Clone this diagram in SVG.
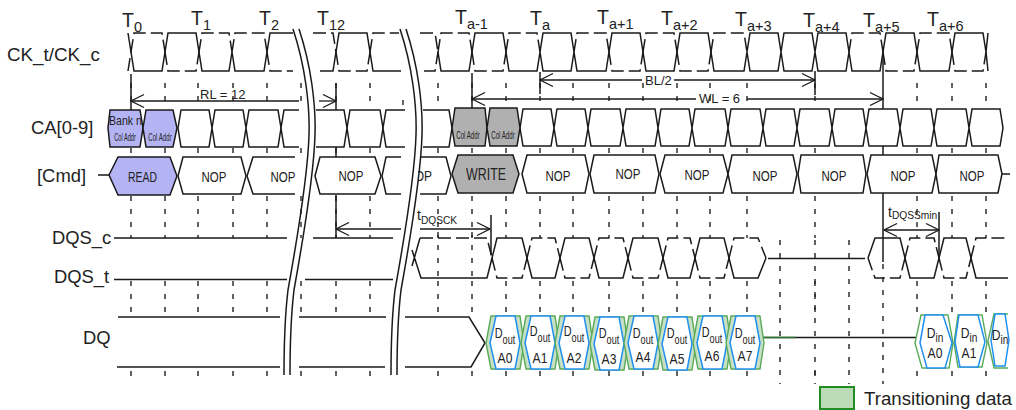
<svg xmlns="http://www.w3.org/2000/svg" width="1016" height="410" viewBox="0 0 1016 410">
<style>
text{font-family:"Liberation Sans",Arial,sans-serif;fill:#222}
.lb{font-size:18.4px}
.t{font-size:19.5px}
.s{font-size:14.5px}
.w{fill:none;stroke:#1a1a1a;stroke-width:1.5}
.d{fill:none;stroke:#1a1a1a;stroke-width:1.5;stroke-dasharray:13 5}
.c{fill:#fff;stroke:#1a1a1a;stroke-width:1.5}
.p{fill:#b4b4f4;stroke:#1a1a1a;stroke-width:1.5}
.g{fill:#b0b0b0;stroke:#1a1a1a;stroke-width:1.5}
.k{fill:none;stroke:#222;stroke-width:1.4;stroke-dasharray:5 8}
.v{fill:none;stroke:#1a1a1a;stroke-width:1.5}
.a{fill:none;stroke:#1a1a1a;stroke-width:1.3;marker-start:url(#ar)}
.e{fill:none;stroke:#1a1a1a;stroke-width:1.3;marker-end:url(#ar)}
.n{font-size:15px;text-anchor:middle}
.ca{font-size:10.5px;text-anchor:middle}
.dt{font-size:15.5px;text-anchor:middle}
.m{font-size:13px}
.gr{fill:#c8e0c4;stroke:#5aaa5a;stroke-width:1.4}
.gw{fill:#fff;stroke:#5aaa5a;stroke-width:1.4}
.bl{fill:#fff;stroke:#2090f0;stroke-width:1.5}
</style>
<defs>
<marker id="ar" markerUnits="userSpaceOnUse" markerWidth="16" markerHeight="16" viewBox="0 0 16 16" refX="15" refY="8" orient="auto-start-reverse"><path d="M2 1.500L15 8L2 14.500" fill="none" stroke="#1a1a1a" stroke-width="1.300"/></marker>
<path id="tk" class="k" d="M0 83V108M0 148V157M0 196V238M0 281V316M0 371V384"/>
<path id="tm" class="k" d="M0 240V384"/>
<g id="dout"><path class="gr" d="M-19 27L-14 0H15L19 27L15 53H-14Z" transform="translate(0,316)"/><path class="bl" d="M-15 27L-9 0H10L15 27L10 53H-9Z" transform="translate(0,316)"/></g>
</defs>
<rect width="1016" height="410" fill="#fff"/>

<g id="ticks">
<use href="#tk" x="165"/><use href="#tk" x="198"/><use href="#tk" x="233"/><use href="#tk" x="267"/><use href="#tk" x="301"/><use href="#tk" x="370"/><use href="#tk" x="438"/><use href="#tk" x="506"/><use href="#tk" x="573"/><use href="#tk" x="609"/><use href="#tk" x="643"/><use href="#tk" x="677"/><use href="#tk" x="710"/><use href="#tk" x="747"/><use href="#tk" x="917"/><use href="#tk" x="952"/><use href="#tk" x="986"/><use href="#tk" x="131"/><use href="#tk" x="336"/><use href="#tk" x="472"/><use href="#tk" x="540"/><use href="#tk" x="815"/>
<use href="#tm" x="780"/><use href="#tm" x="815"/><use href="#tm" x="849"/>
<path class="k" d="M883 264V384M438 232V278M472 232V278M403 100V108"/>
</g>

<g id="connectors">
<path class="v" d="M131 74V110M472 73V108M540 72V94M815 71V95M883 52V110M883 146V157M883 193V262M336 83V110M336 147V157M336 195V238M491 215V255M939 212V255"/>
<path class="a" d="M131 101H299"/><path class="e" d="M319 101H336"/>
<path class="a" d="M540 80H642"/><path class="e" d="M674 80H815"/>
<path class="a" d="M472 99H696"/><path class="e" d="M747 99H883"/>
<path class="a" d="M336 229H401"/><path class="e" d="M420 229H490"/>
<path class="a" style="marker-end:url(#ar)" d="M884 230H939"/>
<path class="w" d="M98 175H109M1002 174H1010"/>
</g>

<g id="ck">
<path class="d" d="M131 52l3-19h28l3 19M199 52l3-19h27l3 19M232 52l3-19h29l3 19M165 52l3 19h28l3-19M267 52l3 19H293M313 33H333l3 19M336 52l3 19h28l3-19M370 52l3-19H399M420 33H435l3 19M424 71H435l3-19M438 52l3-19h28l3 19M472 52l3 19h28l3-19M506 52l3-19h28l3 19M574 52l3-19h29l3 19M609 52l3 19h28l3-19M643 52l3-19h28l3 19M677 52l3 19h28l3-19M711 52l3-19h30l3 19M849 52l3-19h28l3 19M883 52l3 19h28l3-19M917 52l3-19h29l3 19M952 52l3 19h28l3-19M128 71l3-19"/>
<path class="w" d="M128 33l3 19M131 52l3 19h28l3-19M165 52l3-19h28l3 19M199 52l3 19h27l3-19M232 52l3 19h29l3-19M267 52l3-19H293M320 71H333l3-19M336 52l3-19h28l3 19M370 52l3 19H401M438 52l3 19h28l3-19M472 52l3-19h28l3 19M506 52l3 19h28l3-19M540 52l3-19h28l3 19M540 52l3 19h28l3-19M574 52l3 19h29l3-19M609 52l3-19h28l3 19M643 52l3 19h28l3-19M677 52l3-19h28l3 19M711 52l3 19h30l3-19M747 52l3-19h28l3 19M747 52l3 19h28l3-19M781 52l3-19h28l3 19M781 52l3 19h28l3-19M815 52l3-19h28l3 19M815 52l3 19h28l3-19M849 52l3 19h28l3-19M883 52l3-19h28l3 19M917 52l3 19h29l3-19M952 52l3-19h28l3 19M986 52l2-19M986 52l2 19"/>
</g>

<g id="ca">
<path class="c" d="M178 128l3-18h28l3 18-3 19h-28zM212 128l3-18h28l3 18-3 19h-28zM246 128l3-18h29l3 18-3 19h-29zM347 128l3-18h30l3 18-3 19h-30zM520 128l3-19h28l3 19-3 18h-28zM554 128l3-19h28l3 19-3 18h-28zM588 128l3-19h29l3 19-3 18h-29zM623 128l3-19h29l3 19-3 18h-29zM658 128l3-19h28l3 19-3 18h-28zM692 128l3-19h30l3 19-3 18h-30zM728 128l3-19h29l3 19-3 18h-29zM763 128l3-19h28l3 19-3 18h-28zM797 128l3-19h29l3 19-3 18h-29zM832 128l3-19h28l3 19-3 18h-28zM866 128l3-19h28l3 19-3 18h-28zM900 128l3-19h28l3 19-3 18h-28zM934 128l3-19h29l3 19-3 18h-29zM969 128l3-19h28l3 19-3 18h-28z"/>
<path class="c" d="M299 110H284L281 128L284 147H299M316 110H344L347 128L344 147H316M405 110H386L383 128L386 147H405M423 110H449L452 128L449 147H423"/>
<g id="ca-bank"><path class="p" d="M110 110H140L143 128L140 147H110L108 128Z"/><text font-size="12.500" text-anchor="middle" transform="translate(125.500 125) scale(.85 1)">Bank n</text><text class="ca" transform="translate(125 141) scale(.54 1)">Col Addr</text></g>
<g id="ca-col1"><path class="p" d="M143 128L146 110H173L177 128L173 147H146Z"/><text class="ca" transform="translate(160 141) scale(.58 1)">Col Addr</text></g>
<g id="ca-col2"><path class="g" d="M452 128L455 108H485L487 128L485 146H455Z"/><text class="ca" transform="translate(468 139) scale(.58 1)">Col Addr</text></g>
<g id="ca-col3"><path class="g" d="M487 128L490 108H517L520 128L517 146H490Z"/><text class="ca" transform="translate(503 139) scale(.58 1)">Col Addr</text></g>
</g>

<g id="cmd">
<g id="cmd-read"><path class="p" d="M109 175L118 157H170L177 176L170 195H118Z"/><text class="n" x="142.500" y="182" textLength="29" lengthAdjust="spacingAndGlyphs">READ</text></g>
<g id="cmd-nop1"><path class="c" d="M178 176L183 157H241L246 176L241 194H183Z"/><text class="n" x="214" y="182" textLength="25" lengthAdjust="spacingAndGlyphs">NOP</text></g>
<g id="cmd-nop2"><path class="c" d="M295 157H253L247 176L253 194H295"/><text class="n" x="283" y="182" textLength="25" lengthAdjust="spacingAndGlyphs">NOP</text></g>
<g id="cmd-nop3"><path class="c" d="M315 176L320 157H375L381 176L375 194H320Z"/><text class="n" x="351" y="181" textLength="25" lengthAdjust="spacingAndGlyphs">NOP</text></g>
<path class="c" d="M401 157H386L382 176L386 194H401"/>
<g id="cmd-nop4"><path class="c" d="M420 157H446L451 176L446 194H420"/><text class="n" x="419" y="181" textLength="26" lengthAdjust="spacingAndGlyphs">NOP</text><path fill="#fff" d="M400 160H418V190H400Z"/></g>
<g id="cmd-write"><path class="g" d="M452 174L458 155H513L519 174L513 193H458Z"/><text x="486" y="180" font-size="16.500" text-anchor="middle" textLength="40" lengthAdjust="spacingAndGlyphs">WRITE</text></g>
<g id="cmd-nop5"><path class="c" d="M522 174L527 155H585L589 174L585 193H527Z"/><text class="n" x="558" y="181" textLength="25" lengthAdjust="spacingAndGlyphs">NOP</text></g>
<g id="cmd-nop6"><path class="c" d="M590 174L594 155H655L659 174L655 193H594Z"/><text class="n" x="628" y="179" textLength="25" lengthAdjust="spacingAndGlyphs">NOP</text></g>
<g id="cmd-nop7"><path class="c" d="M660 174L665 155H723L728 174L723 193H665Z"/><text class="n" x="697" y="180" textLength="25" lengthAdjust="spacingAndGlyphs">NOP</text></g>
<g id="cmd-nop8"><path class="c" d="M728 174L732 155H793L797 174L793 193H732Z"/><text class="n" x="765" y="181" textLength="25" lengthAdjust="spacingAndGlyphs">NOP</text></g>
<g id="cmd-nop9"><path class="c" d="M798 174L801 155H863L866 174L863 193H801Z"/><text class="n" x="834" y="181" textLength="25" lengthAdjust="spacingAndGlyphs">NOP</text></g>
<g id="cmd-nop10"><path class="c" d="M867 174L871 155H932L936 174L932 193H871Z"/><text class="n" x="903" y="181" textLength="25" lengthAdjust="spacingAndGlyphs">NOP</text></g>
<g id="cmd-nop11"><path class="c" d="M936 174L939 155H998L1002 174L998 193H939Z"/><text class="n" x="972" y="181" textLength="25" lengthAdjust="spacingAndGlyphs">NOP</text></g>
</g>

<g id="dqs">
<path class="w" d="M114 238H287M313 238H393M114 279.500H287M305 279.500H393M768 258.500H865"/>
<path class="w" d="M420 238L412 266M412 250L421 278H487L492 258M492 258l5-20h25l5 20M527 258l5 20h23l5-20M560 258l5-20h24l5 20M594 258l5 20h24l5-20M628 258l5-20h25l5 20M663 258l5 20h22l5-20M695 258l5-20h24l5 20M729 258l5 20h24l8-20M868 258L875 238H900L905 258M905 258l5 20h24l5-20M939 258l5-20h22l5 20M971 258l5 20H1008"/>
<path class="d" d="M420 238H487L492 258M492 258l5 20h25l5-20M527 258l5-20h23l5 20M560 258l5 20h24l5-20M594 258l5-20h24l5 20M628 258l5 20h25l5-20M663 258l5-20h22l5 20M695 258l5 20h24l5-20M729 258l5-20h24l8 20M868 258L875 278H900L905 258M905 258l5-20h24l5 20M939 258l5 20h22l5-20M971 258l5-20H1008"/>
</g>

<g id="dq">
<path class="w" d="M118 317H280M299 317H386M405 317H469L485 343L471 367H405M117 367H280M299 367H385M763 337.500H916"/>
<path fill="none" stroke="#2a7a2a" stroke-width="1.500" d="M763 337.500H795"/>
<g id="d0" transform="translate(505 0)"><use href="#dout"/><text class="dt" transform="scale(.7 1)" y="338">D<tspan font-size="13" dy="6">out</tspan></text><text class="dt" transform="scale(.78 1)" y="363">A0</text></g>
<g id="d1" transform="translate(540 0)"><use href="#dout"/><text class="dt" transform="scale(.7 1)" y="336">D<tspan font-size="13" dy="6">out</tspan></text><text class="dt" transform="scale(.78 1)" y="363">A1</text></g>
<g id="d2" transform="translate(574 0)"><use href="#dout"/><text class="dt" transform="scale(.7 1)" y="336">D<tspan font-size="13" dy="6">out</tspan></text><text class="dt" transform="scale(.78 1)" y="363">A2</text></g>
<g id="d3" transform="translate(609 1)"><use href="#dout"/><text class="dt" transform="scale(.7 1)" y="337">D<tspan font-size="13" dy="6">out</tspan></text><text class="dt" transform="scale(.78 1)" y="363">A3</text></g>
<g id="d4" transform="translate(643 0)"><use href="#dout"/><text class="dt" transform="scale(.7 1)" y="338">D<tspan font-size="13" dy="6">out</tspan></text><text class="dt" transform="scale(.78 1)" y="362">A4</text></g>
<g id="d5" transform="translate(677 1)"><use href="#dout"/><text class="dt" transform="scale(.7 1)" y="337">D<tspan font-size="13" dy="6">out</tspan></text><text class="dt" transform="scale(.78 1)" y="363">A5</text></g>
<g id="d6" transform="translate(712 0)"><use href="#dout"/><text class="dt" transform="scale(.7 1)" y="337">D<tspan font-size="13" dy="6">out</tspan></text><text class="dt" transform="scale(.78 1)" y="361">A6</text></g>
<g id="d7" transform="translate(745 0)"><use href="#dout"/><text class="dt" transform="scale(.7 1)" y="338">D<tspan font-size="13" dy="6">out</tspan></text><text class="dt" transform="scale(.78 1)" y="361">A7</text></g>
<g id="i0"><path class="gw" d="M915 343L921 315H948L953 343L949 368H922Z"/><path class="bl" d="M920 343L925 315H943L952 343L945 368H927Z"/><text class="dt" transform="translate(935 0) scale(.78 1)" y="338">D<tspan font-size="13" dy="4">in</tspan></text><text class="dt" transform="translate(935 0) scale(.78 1)" y="358">A0</text></g>
<g id="i1"><path class="gw" d="M954 343L958 315H982L987 343L982 367H958Z"/><path class="bl" d="M955 342L959 315H978L985 342L978 367H960Z"/><text class="dt" transform="translate(969 0) scale(.78 1)" y="338">D<tspan font-size="13" dy="4">in</tspan></text><text class="dt" transform="translate(969 0) scale(.78 1)" y="358">A1</text></g>
<g id="i2"><path class="gw" d="M1008 314H994L988 341L994 368H1008"/><path class="bl" d="M991 340L995 314H1005L1009 340L1005 366H995Z"/><text class="dt" transform="translate(1000 0) scale(.78 1)" y="340">D<tspan font-size="13" dy="4">in</tspan></text></g>
</g>

<g id="breaks">
<path class="w" d="M293 29C305 65 310 105 309 135C308 170 297 240 288 290C285 315 284 345 284 375M299 29C311 65 316 105 315 135C314 170 303 240 294 290C291 315 290 345 290 375"/>
<path class="w" d="M400 29C412 65 417 105 416 135C415 170 404 240 395 290C392 315 391 345 391 375M406 29C418 65 423 105 422 135C421 170 410 240 401 290C398 315 397 345 397 375"/>
</g>

<g id="labels">
<text x="7" y="60.500" font-size="18.800">CK_t/CK_c</text>
<text class="lb" x="31" y="134">CA[0-9]</text>
<text class="lb" x="37" y="182">[Cmd]</text>
<text class="lb" x="52" y="244">DQS_c</text>
<text class="lb" x="54" y="283">DQS_t</text>
<text class="lb" x="83" y="344">DQ</text>
<text class="m" x="200" y="99">RL = 12</text>
<text class="m" x="645" y="85">BL/2</text>
<text class="m" x="699" y="103">WL = 6</text>
<text x="417" y="220" font-size="14">t<tspan font-size="10.200" dy="4">DQSCK</tspan></text>
<text x="888" y="217" font-size="14">t<tspan font-size="10.200" dy="2">DQSSmin</tspan></text>
<text class="t" x="122" y="27">T<tspan class="s" dy="5">0</tspan></text>
<text class="t" x="191" y="25">T<tspan class="s" dy="5">1</tspan></text>
<text class="t" x="259" y="25">T<tspan class="s" dy="5">2</tspan></text>
<text class="t" x="317" y="25">T<tspan class="s" dy="5">12</tspan></text>
<text class="t" x="455" y="24">T<tspan class="s" dy="5">a-1</tspan></text>
<text class="t" x="530" y="25">T<tspan class="s" dy="5">a</tspan></text>
<text class="t" x="597" y="24">T<tspan class="s" dy="5">a+1</tspan></text>
<text class="t" x="661" y="25">T<tspan class="s" dy="5">a+2</tspan></text>
<text class="t" x="735" y="26">T<tspan class="s" dy="5">a+3</tspan></text>
<text class="t" x="803" y="27">T<tspan class="s" dy="5">a+4</tspan></text>
<text class="t" x="863" y="27">T<tspan class="s" dy="5">a+5</tspan></text>
<text class="t" x="927" y="26">T<tspan class="s" dy="5">a+6</tspan></text>
</g>

<g id="legend">
<rect x="820" y="387" width="34" height="22" fill="#bcdcb8" stroke="#228b22" stroke-width="2"/>
<text x="864" y="405" font-size="18.700">Transitioning data</text>
</g>
</svg>
